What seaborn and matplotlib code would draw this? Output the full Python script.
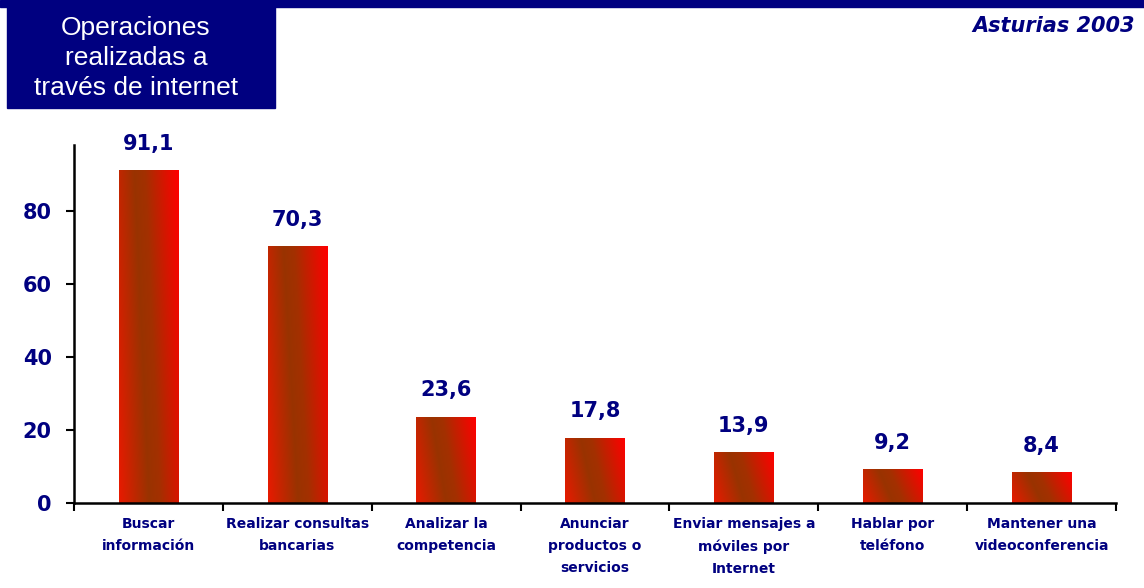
import numpy as np
import matplotlib.pyplot as plt
import matplotlib.patches as mpatches
import matplotlib.colors as mcolors
import pandas as pd
import seaborn as sns

categorias = ["Buscar\ninformación", "Realizar consultas\nbancarias", "Analizar la\ncompetencia",
              "Anunciar\nproductos o\nservicios", "Enviar mensajes a\nmóviles por\nInternet",
              "Hablar por\nteléfono", "Mantener una\nvideoconferencia"]
valores = [91.1, 70.3, 23.6, 17.8, 13.9, 9.2, 8.4]
yticks = [0, 20, 40, 60, 80]

navy = "#000080"
df = pd.DataFrame({"cat": categorias, "val": valores})

sns.set_style("white")
plt.rcParams['font.family'] = ['DejaVu Sans']

fig = plt.figure(figsize=(11.44, 5.88), dpi=100)
ax = fig.add_axes([0.0647, 0.1446, 0.9108, 0.6088])

sns.barplot(data=df, x="cat", y="val", ax=ax, width=0.4, color="#cc2200", saturation=1)

# gradient fill for each bar
cmap = mcolors.LinearSegmentedColormap.from_list(
    "g", [(0, "#e81a00"), (0.4, "#993300"), (0.55, "#a33000"), (1, "#ff0000")])
gx, gy = np.meshgrid(np.linspace(0, 1, 80), np.linspace(0, 1, 80))
grad = np.clip(gx * 0.8 + gy * 0.2, 0, 1)
for p in ax.patches:
    x0, y0 = p.get_x(), p.get_y()
    w, h = p.get_width(), p.get_height()
    im = ax.imshow(grad, cmap=cmap, extent=[x0, x0 + w, y0, y0 + h], origin="lower",
                   aspect="auto", zorder=p.get_zorder() + 0.1, interpolation="bicubic")
    im.set_clip_path(p)
    p.set_edgecolor("none")

for i, v in enumerate(valores):
    ax.annotate(f"{v:.1f}".replace(".", ","), (i, v), xytext=(0, 12), textcoords="offset points",
                ha="center", va="bottom", fontsize=15, fontweight="bold", color=navy)

ax.set_xlim(-0.5, 6.5)
ax.set_ylim(0, 98)
ax.set_yticks(yticks)
ax.set_xlabel("")
ax.set_ylabel("")
ax.set_xticks(range(len(categorias)))
ax.set_xticklabels(categorias, fontsize=10, fontweight="bold", color=navy, va="top", linespacing=1.75)
ax.set_xticks(np.arange(-0.5, 7, 1), minor=True)
ax.tick_params(axis="x", which="major", bottom=True, length=0, pad=10)
ax.tick_params(axis="x", which="minor", bottom=True, length=6, width=1.5, direction="out", color="black")
ax.tick_params(axis="y", left=True, length=6, width=1.5, direction="out", color="black",
               labelsize=15, labelcolor=navy, pad=10)
for lab in ax.get_yticklabels():
    lab.set_fontweight("bold")
ax.set_autoscale_on(False)
sns.despine(ax=ax, top=True, right=True)
for s in ["left", "bottom"]:
    ax.spines[s].set_linewidth(1.8)
    ax.spines[s].set_color("black")

# header elements
fig.patches.append(mpatches.Rectangle((0, 1 - 7 / 588), 1, 7 / 588, transform=fig.transFigure,
                                      color=navy, zorder=0))
fig.patches.append(mpatches.Rectangle((7 / 1144, 1 - 108 / 588), 268 / 1144, 101 / 588,
                                      transform=fig.transFigure, color=navy, zorder=0))
fig.text(136 / 1144, 1 - 58 / 588, "Operaciones\nrealizadas a\ntravés de internet", color="white",
         fontsize=19, fontweight="normal", family=["Liberation Sans"], ha="center", va="center",
         linespacing=1.33)
fig.text(1135 / 1144, 1 - 26 / 588, "Asturias 2003", color=navy, fontsize=15, fontweight="bold",
         style="italic", ha="right", va="center")

fig.savefig("out.png", dpi=100)
